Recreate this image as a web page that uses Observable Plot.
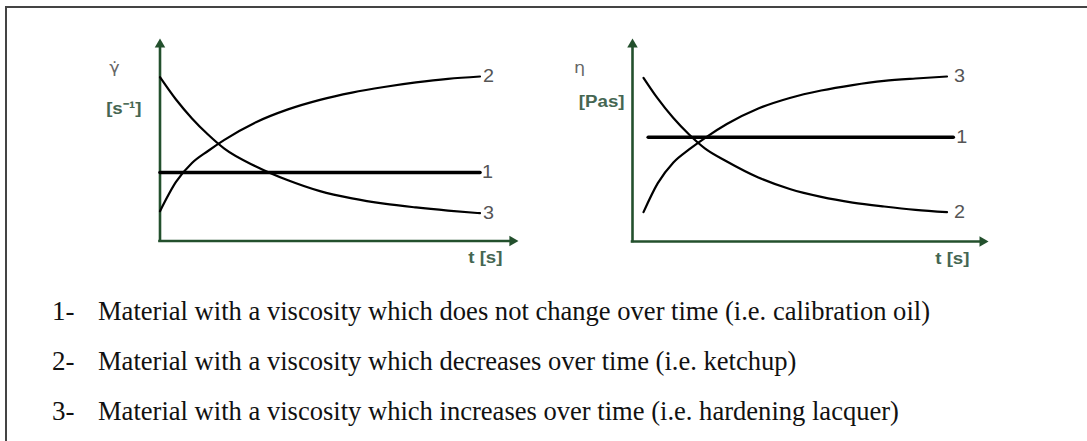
<!DOCTYPE html>
<html>
<head>
<meta charset="utf-8">
<script src="https://cdn.jsdelivr.net/npm/d3@7"></script>
<script src="https://cdn.jsdelivr.net/npm/@observablehq/plot@0.6"></script>
<style>
  html, body { margin: 0; padding: 0; background: #fff; width: 1087px; height: 441px; overflow: hidden; }
  .chart { position: absolute; top: 0; }
  #frame { position: absolute; left: 5px; top: 6px; width: 1300px; height: 700px; border: 2px solid #444; box-sizing: border-box; pointer-events: none; }
  .note { position: absolute; font-family: "Liberation Serif", "Times New Roman", serif; font-size: 27px; line-height: 27px; color: #111; white-space: nowrap; }
</style>
</head>
<body>
<div id="left" class="chart" style="left:0; width:540px;"></div>
<div id="right" class="chart" style="left:540px; width:547px;"></div>
<div id="notes"></div>
<div id="frame"></div>
<script>
// Shear rate over time (left panel)
const leftT = [0, 0.5, 1, 1.5, 2, 3, 4, 5, 6, 7, 8, 9, 10];
const leftRise = [1.81, 3.59, 4.74, 5.47, 6.13, 7.22, 8.00, 8.58, 9.02, 9.36, 9.64, 9.86, 10.0];   // material 2
const leftFall = [9.96, 8.60, 7.45, 6.47, 5.63, 4.53, 3.69, 3.03, 2.59, 2.27, 2.04, 1.85, 1.69];   // material 3
const leftLevelT = [0, 10];
const leftLevel = 4.16;                                                                          // material 1

// Viscosity over time (right panel)
const rightT = [0.35, 0.8, 1.3, 1.8, 2.3, 3, 4, 5, 6, 7, 8, 9, 10];
const rightRise = [1.78, 3.52, 4.79, 5.58, 6.27, 7.12, 8.06, 8.70, 9.15, 9.48, 9.73, 9.88, 10.0]; // material 3
const rightFall = [9.92, 8.67, 7.48, 6.48, 5.64, 4.85, 3.88, 3.18, 2.70, 2.36, 2.12, 1.92, 1.78]; // material 2
const rightLevelT = [0.5, 10.2];
const rightLevel = 6.32;                                                                         // material 1

const noteLabels = ["1-", "2-", "3-"];
const noteTexts = [
  "Material with a viscosity which does not change over time (i.e. calibration oil)",
  "Material with a viscosity which decreases over time (i.e. ketchup)",
  "Material with a viscosity which increases over time (i.e. hardening lacquer)"
];

const axisColor = "#23502d";
const unitColor = "#456652";
const numColor = "#555";
const sans = "Liberation Sans, Arial, sans-serif";

function rows(id, ts, vs) {
  return ts.map((t, i) => ({id, t, v: Array.isArray(vs) ? vs[i] : vs}));
}

function chart(o) {
  const level = rows("1", o.levelT, o.level);
  const riseRows = rows(o.riseId, o.t, o.rise);
  const fallRows = rows(o.fallId, o.t, o.fall);
  const curveEnds = [riseRows.at(-1), fallRows.at(-1)];
  const svg = Plot.plot({
    width: o.width,
    height: 290,
    marginLeft: o.marginLeft,
    marginRight: o.marginRight,
    marginTop: 76,
    marginBottom: o.marginBottom,
    x: {domain: [0, 10], axis: null},
    y: {domain: [0, 10], axis: null},
    style: {background: "transparent", overflow: "visible"},
    marks: [
      // axes with filled arrowheads
      Plot.ruleY([0], {x1: 0, x2: o.xTip - 0.2, stroke: axisColor, strokeWidth: 2.6, strokeLinecap: "square"}),
      Plot.ruleX([0], {y1: 0, y2: o.yTip - 0.3, stroke: axisColor, strokeWidth: 2.6, strokeLinecap: "square"}),
      Plot.dot([0], {x: o.xTip, y: 0, symbol: "triangle", r: 3.9, fill: axisColor, stroke: null, rotate: 90, dx: -6}),
      Plot.dot([0], {x: 0, y: o.yTip, symbol: "triangle", r: 3.9, fill: axisColor, stroke: null, dy: 6}),
      // material curves
      Plot.line(level, {x: "t", y: "v", stroke: "#000", strokeWidth: 3.6}),
      Plot.line([...riseRows, ...fallRows], {x: "t", y: "v", z: "id", curve: "monotone-x", stroke: "#000", strokeWidth: 2.2}),
      // curve numbers
      Plot.text([level.at(-1)], {x: "t", y: "v", text: "id", textAnchor: "start", dx: o.levelGap, fill: numColor, fontSize: 18, fontFamily: sans}),
      Plot.text(curveEnds, {x: "t", y: "v", text: "id", textAnchor: "start", dx: o.curveGap, fill: numColor, fontSize: 18, fontFamily: sans}),
      // axis titles
      Plot.text([o.symbol], {frameAnchor: "top-left", textAnchor: "middle", dx: o.symbolDx, dy: o.symbolDy, fill: "#666", fontSize: 16, fontFamily: "DejaVu Sans, sans-serif"}),
      Plot.text([o.unit], {frameAnchor: "top-left", textAnchor: "end", dx: o.unitDx, dy: o.unitDy, fill: unitColor, fontSize: 17, fontWeight: "bold", fontFamily: sans}),
      Plot.text(["t [s]"], {frameAnchor: "bottom-right", textAnchor: "end", dx: 22.5, dy: 22, fill: unitColor, fontSize: 17, fontWeight: "bold", fontFamily: sans})
    ]
  });
  // slightly wide lettering, as in the printed figure
  svg.querySelectorAll("text").forEach(el => {
    const tr = el.getAttribute("transform") || "";
    el.setAttribute("transform", tr + " scale(1.1,1)");
  });
  return svg;
}

document.getElementById("left").append(chart({
  width: 540, marginLeft: 159.5, marginRight: 60.5, marginBottom: 49.5,
  t: leftT, rise: leftRise, riseId: "2", fall: leftFall, fallId: "3",
  levelT: leftLevelT, level: leftLevel,
  xTip: 11.2, yTip: 12.31, levelGap: 2, curveGap: 3,
  symbol: "γ\u0307", symbolDx: -45.5, symbolDy: -15,
  unit: "[s⁻¹]", unitDx: -18.5, unitDy: 25
}));

document.getElementById("right").append(chart({
  width: 547, marginLeft: 92, marginRight: 140.5, marginBottom: 49,
  t: rightT, rise: rightRise, riseId: "3", fall: rightFall, fallId: "2",
  levelT: rightLevelT, level: rightLevel,
  xTip: 11.32, yTip: 12.3, levelGap: 3, curveGap: 7,
  symbol: "η", symbolDx: -53, symbolDy: -15,
  unit: "[Pas]", unitDx: -8, unitDy: 18
}));

// numbered explanation below the panels
const notes = d3.select("#notes");
const firstBaseline = 321, pitch = 50, ascentOffset = 22.6;
noteTexts.forEach((txt, i) => {
  const top = firstBaseline + i * pitch - ascentOffset;
  notes.append("div").attr("class", "note").style("left", "52px").style("top", top + "px").text(noteLabels[i]);
  notes.append("div").attr("class", "note body").style("left", "98px").style("top", top + "px").text(txt);
});
const firstWidth = notes.select(".body").node().getBoundingClientRect().width;
const stretch = 832 / firstWidth;
notes.selectAll(".body").style("transform-origin", "left center").style("transform", `scaleX(${stretch})`);
</script>
</body>
</html>
